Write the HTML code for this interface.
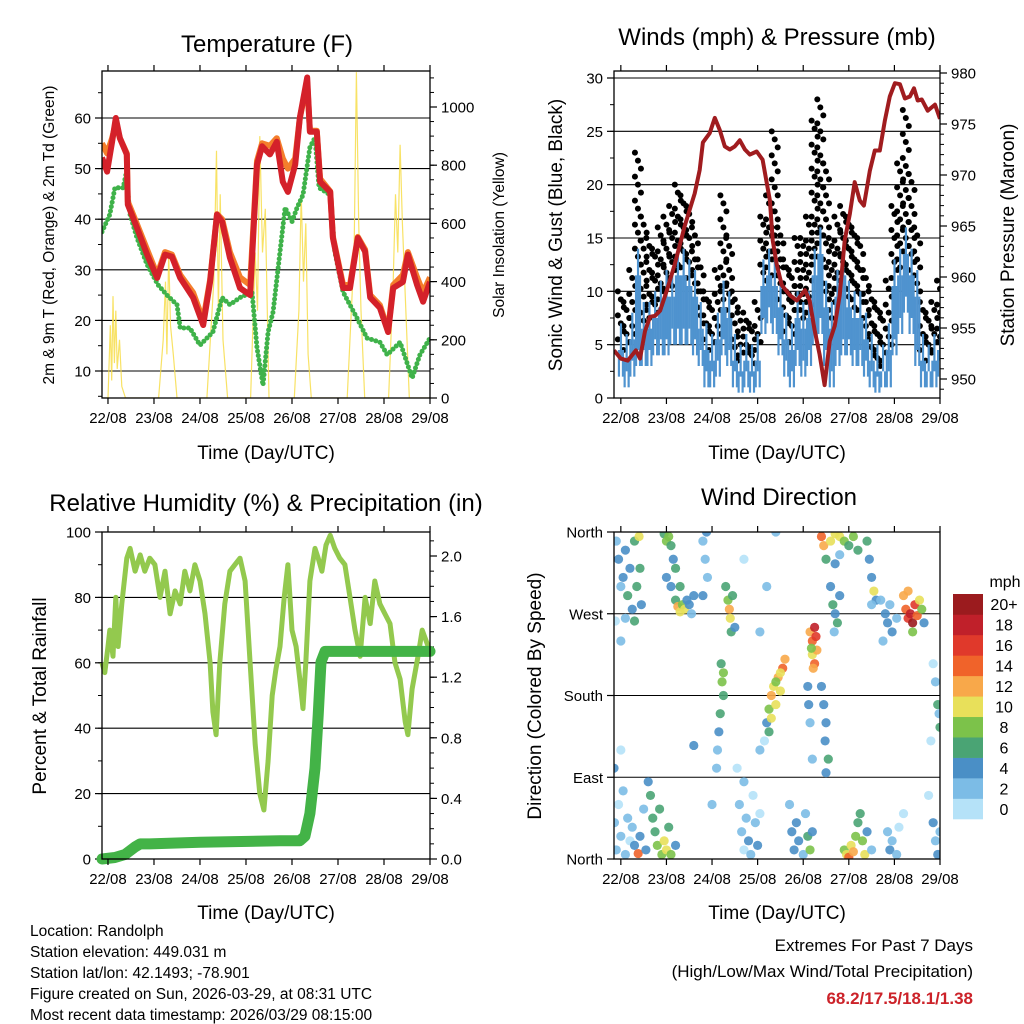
<!DOCTYPE html>
<html><head><meta charset="utf-8">
<style>
html,body{margin:0;padding:0;background:#fff;}
svg{display:block;font-family:"Liberation Sans",Arial,sans-serif;}
</style></head>
<body>
<svg id="chart" width="1024" height="1024" viewBox="0 0 1024 1024" xmlns="http://www.w3.org/2000/svg">
<rect width="1024" height="1024" fill="#fff"/>
<g id="g1"></g>
<g id="g2"></g>
<g id="g3"></g>
<g id="g4"></g>
<g id="texts">
<text x="267" y="52" font-size="24" text-anchor="middle">Temperature (F)</text>
<text x="777" y="45" font-size="24" text-anchor="middle">Winds (mph) &amp; Pressure (mb)</text>
<text x="266" y="511" font-size="24" text-anchor="middle">Relative Humidity (%) &amp; Precipitation (in)</text>
<text x="779" y="505" font-size="24" text-anchor="middle">Wind Direction</text>
<text x="266" y="459" font-size="19" text-anchor="middle">Time (Day/UTC)</text>
<text x="777" y="459" font-size="19" text-anchor="middle">Time (Day/UTC)</text>
<text x="266" y="919" font-size="19" text-anchor="middle">Time (Day/UTC)</text>
<text x="777" y="919" font-size="19" text-anchor="middle">Time (Day/UTC)</text>
<text transform="translate(54,235) rotate(-90)" font-size="15.5" text-anchor="middle">2m &amp; 9m T (Red, Orange) &amp; 2m Td (Green)</text>
<text transform="translate(504,235) rotate(-90)" font-size="15.5" text-anchor="middle">Solar Insolation (Yellow)</text>
<text transform="translate(562,235) rotate(-90)" font-size="19" text-anchor="middle">Sonic Wind &amp; Gust (Blue, Black)</text>
<text transform="translate(1014,235) rotate(-90)" font-size="19" text-anchor="middle">Station Pressure (Maroon)</text>
<text transform="translate(46,696) rotate(-90)" font-size="19" text-anchor="middle">Percent &amp; Total Rainfall</text>
<text transform="translate(541,696) rotate(-90)" font-size="19" text-anchor="middle">Direction (Colored By Speed)</text>
<g font-size="15.5">
<text x="30" y="936">Location: Randolph</text>
<text x="30" y="957">Station elevation: 449.031 m</text>
<text x="30" y="978">Station lat/lon: 42.1493; -78.901</text>
<text x="30" y="999">Figure created on Sun, 2026-03-29, at 08:31 UTC</text>
<text x="30" y="1020">Most recent data timestamp: 2026/03/29 08:15:00</text>
</g>
<text x="973" y="951" font-size="17" text-anchor="end">Extremes For Past 7 Days</text>
<text x="973" y="977" font-size="17" text-anchor="end">(High/Low/Max Wind/Total Precipitation)</text>
<text x="973" y="1004" font-size="17" font-weight="bold" fill="#cc2229" text-anchor="end">68.2/17.5/18.1/1.38</text>
</g>
</svg>
<script>
// ---------- data ----------
const dayLabels = ["22/08","23/08","24/08","25/08","26/08","27/08","28/08","29/08"];
// temperature panel
const tempT = [-0.13,-0.02,0.09,0.17,0.26,0.41,0.43,0.63,0.85,1.07,1.24,1.39,1.57,1.85,2.07,2.22,2.37,2.48,2.65,2.87,3.09,3.24,3.35,3.52,3.67,3.8,3.91,4.07,4.17,4.33,4.39,4.54,4.61,4.83,4.89,5.11,5.26,5.43,5.59,5.7,5.91,6.09,6.2,6.41,6.52,6.72,6.85,7.0];
const tempRed = [52.2,49.4,55.3,60,56,52.8,42.9,38.3,33,28.4,33,32.6,28.4,24.5,19.1,27.6,40.9,39.5,32.4,26.4,25,50.8,54.4,52.8,55.3,47.4,45.4,50.8,60,68,57.3,57.3,47.4,45.4,36.3,26.4,26.4,36.3,33.6,24.5,22.5,17.7,26.4,27.6,33,27,23.7,27.6];
const tempOrange = [55,53,56,59,56,53,43.5,39,34,29,33.5,33,29,25.5,20,28,41,40,33.5,28.5,27,51.5,55,54.5,56,52,50,52,60,67,57.5,57.5,48,45.5,36.5,27,27,36.5,34,25,23,18,27,29,33.5,28.5,25.5,28.5];
const tdT = [-0.13,0.04,0.15,0.33,0.39,0.48,0.63,0.85,1.09,1.28,1.5,1.57,1.78,2.0,2.28,2.48,2.65,2.87,3.13,3.24,3.37,3.48,3.59,3.85,4.0,4.11,4.24,4.39,4.5,4.59,4.83,4.93,5.11,5.41,5.63,5.91,6.07,6.35,6.61,6.78,7.0];
const tdVal = [37.5,40.9,46.2,46.2,48.8,40.9,36.3,31,27,25,23.1,18.5,18.5,15.1,17.7,24.5,23.1,24.5,25.6,14.6,7.2,17.7,21.7,42.3,39.5,42.3,44.8,54.2,56.1,46.2,44.8,33.6,25.6,20.5,16.5,15.7,13.2,15.7,8.6,13.2,16.5];
const solarT = [-0.13,0.0,0.05,0.08,0.11,0.14,0.17,0.2,0.25,0.3,0.38,1.1,1.2,1.25,1.28,1.32,1.36,1.42,1.5,2.15,2.3,2.36,2.4,2.44,2.5,2.6,3.1,3.2,3.25,3.3,3.36,3.42,3.5,4.05,4.15,4.2,4.25,4.3,4.35,4.42,5.2,5.35,5.4,5.45,5.5,5.58,6.1,6.2,6.25,6.3,6.35,6.4,6.45,6.55,7.0];
const solarV = [0,0,250,60,350,120,300,100,200,40,0,0,200,400,150,500,250,150,0,0,400,850,300,700,200,0,0,500,300,900,500,650,0,0,300,700,400,600,150,0,0,500,1120,600,300,0,0,400,700,500,870,600,400,0,0];
const tempTicks = [10,20,30,40,50,60];
const solarTicks = [0,200,400,600,800,1000];
// wind panel (3-hourly)
const windHi = [7,6,8,14,9,9,10,11, 12,12,14,14,13,12,9,7, 6,8,11,10,6,5,6,5, 6,13,14,13,11,8,7,10, 9,10,14,16,11,9,12,14, 11,10,10,8,6,5,5,7, 13,14,16,14,12,6,5,6, 7];
const windLo = [2,1,2,3,3,3,4,4, 4,5,5,5,5,4,3,1, 1,2,4,3,1,0.5,1,0.5, 1,6,7,6,4,2,1,3, 2,3,5,6,3,1,3,4, 4,3,3,2,1,0.5,1,1, 4,6,8,6,3,1,1,1, 2];
const gust = [10,9,12,23,17,15,14,16, 17,18,20,19,18,16,13,10, 9,12,19,15,10,8,8,7, 9,17,19,25,16,13,12,15, 15,17,26,28,22,15,17,18, 17,16,15,12,10,9,8,11, 18,22,27,21,16,9,8,9, 11];
const presT = [-0.15,0,0.15,0.33,0.42,0.53,0.64,0.75,0.86,1.01,1.18,1.29,1.4,1.51,1.62,1.73,1.8,1.95,2.06,2.17,2.28,2.39,2.5,2.61,2.72,2.83,2.98,3.11,3.27,3.33,3.42,3.53,3.71,3.86,4.04,4.14,4.25,4.36,4.47,4.58,4.69,4.8,4.91,5.02,5.13,5.24,5.33,5.46,5.57,5.68,5.79,5.9,6.01,6.12,6.23,6.34,6.43,6.51,6.6,6.73,6.89,7.0];
const presV = [952.8,952.0,951.8,952.8,952.0,954.7,956.1,956.2,956.7,958.7,961.2,963.1,965.0,966.6,968.2,970.5,973.2,974.1,975.6,974.4,972.8,972.5,972.8,973.4,972.5,972.0,972.3,971.5,967.5,963.6,961.2,959.2,958.2,957.7,958.7,957.7,954.8,952.4,949.4,953.7,955.2,958.2,963.6,966.1,969.3,967.5,967.0,970.4,972.4,972.4,975.3,977.7,979.0,978.9,977.5,977.7,978.5,977.3,977.4,976.3,976.9,975.5];
const windTicks = [0,5,10,15,20,25,30];
const presTicks = [950,955,960,965,970,975,980];
// RH panel
const rhT = [-0.13,-0.07,0,0.04,0.11,0.17,0.22,0.30,0.41,0.48,0.59,0.70,0.80,0.91,1.02,1.13,1.24,1.35,1.46,1.57,1.67,1.78,1.89,2.0,2.11,2.22,2.28,2.35,2.43,2.54,2.65,2.76,2.87,2.98,3.09,3.2,3.3,3.39,3.48,3.57,3.65,3.74,3.83,3.91,4.0,4.09,4.17,4.24,4.3,4.39,4.5,4.57,4.65,4.74,4.83,4.93,5.04,5.15,5.26,5.37,5.48,5.59,5.7,5.8,5.91,6.02,6.13,6.24,6.35,6.46,6.52,6.61,6.74,6.83,6.96,7.0];
const rhV = [60,57,65,70,62,80,65,78,92,95,88,93,88,92,90,80,88,75,82,78,88,82,90,85,75,60,45,38,60,78,88,90,92,85,60,35,20,15,30,50,58,65,80,90,70,65,55,46,60,85,95,92,88,96,99,95,92,90,80,70,62,80,72,85,78,75,72,60,55,42,38,52,62,70,65,62];
const rainT = [-0.13,0.15,0.37,0.59,0.7,0.91,2.0,3.74,4.17,4.28,4.39,4.5,4.57,4.63,4.72,7.0];
const rainV = [0,0.01,0.03,0.08,0.1,0.1,0.11,0.12,0.12,0.15,0.3,0.6,0.95,1.3,1.37,1.37];
const rhTicks = [0,20,40,60,80,100];
const rainTicks = ["0.0","0.4","0.8","1.2","1.6","2.0"];
// wind direction panel
const dirT = [-0.1,-0.05,0,0.05,0.1,0.15,0.2,0.25,0.3,0.35,0.4,0.42,0.45,0.3,-0.12,0.1,0,
 -0.14,-0.1,-0.05,0,0.05,0.1,0.15,0.2,0.25,0.3,0.38,0.42,0.5,0.55,0.65,0.7,0.75,0.8,0.85,0.9,0.95,1.0,1.05,1.1,1.2,0.6,-0.15,0,
 0.95,1.0,1.05,1.1,1.15,1.2,1.1,1.2,1.25,1.3,1.35,1.4,1.45,1.5,1.55,1.6,1.0,1.3,1.8,1.85,1.9,1.88,1.8,
 2.3,2.35,2.38,2.4,2.45,2.42,2.5,2.2,2.22,2.25,2.18,2.15,2.12,2.1,2.25,
 2.6,2.65,2.7,2.75,2.8,2.85,2.9,2.95,3.0,3.05,2.7,2.55,
 3.2,3.25,3.3,3.35,3.4,3.45,3.5,3.55,3.6,3.3,3.25,3.4,3.5,3.15,3.05,
 4.15,4.2,4.25,4.28,4.2,4.25,4.3,4.18,4.22,
 4.1,4.12,4.4,4.45,4.5,4.48,4.55,4.5,4.15,4.2,
 3.7,3.75,3.8,3.85,3.9,4.0,4.05,4.1,4.15,4.2,
 4.4,4.45,4.6,4.7,4.8,4.9,5.0,5.1,4.5,4.7,5.2,4.8,
 4.6,4.65,4.7,4.75,4.8,4.68,
 5.4,5.45,5.5,5.55,5.6,5.5,
 5.7,5.8,5.85,5.9,5.95,6.05,5.75,
 6.2,6.25,6.3,6.35,6.4,6.45,6.5,6.55,6.6,6.3,6.65,6.4,
 4.9,4.95,5.0,5.05,5.1,5.15,5.2,5.25,5.3,5.35,5.4,5.5,
 5.85,5.9,5.95,6.05,6.1,6.2,
 6.85,6.9,6.95,7.0,6.98,6.8,
 6.85,6.9,6.95,7.0,6.75,
 1.6,2.0,3.2,3.4,2.7,3.05];
const dirDeg = [350,330,300,310,340,290,320,275,350,300,355,320,280,262,262,265,240,
 40,10,60,25,75,5,45,20,35,15,6,25,55,10,70,45,30,15,55,5,20,10,35,5,15,85,100,120,
 358,350,355,345,330,320,300,285,278,272,280,275,285,280,270,290,310,300,350,330,310,360,290,
 300,285,275,265,290,250,255,215,195,180,160,140,120,100,205,
 60,30,10,45,20,5,70,40,15,50,85,100,
 150,165,180,190,170,200,185,210,220,155,140,195,205,130,120,
 250,240,255,245,225,215,230,232,210,
 190,170,190,170,150,130,110,95,150,110,
 60,30,10,40,20,5,50,25,10,30,
 355,345,350,358,355,350,345,355,330,325,340,335,
 300,280,270,260,290,250,
 350,330,310,295,285,280,
 285,270,260,280,250,265,240,
 290,275,265,270,260,280,268,285,275,295,260,250,
 10,5,2,15,8,25,40,50,20,5,30,10,
 30,10,20,5,35,50,
 215,195,170,145,160,130,
 40,20,5,30,70,
 125,60,300,360,330,250];
const dirSpd = [3,4,3,5,4,6,4,5,7,6,11,7,4,6,1,3,2,
 3,2,1,2,3,3,2,1,3,4,15,5,3,4,7,6,7,8,6,9,11,10,6,8,4,5,4,1,
 7,8,8,7,5,6,5,7,12,11,8,10,5,4,3,4,4,7,3,2,3,4,4,
 7,8,12,11,6,7,4,7,8,7,6,4,3,2,9,
 2,3,1,2,4,3,1,2,5,1,2,1,
 4,9,12,10,11,13,10,14,12,10,6,9,10,1,2,
 12,14,18,16,10,15,13,8,12,
 4,4,5,4,4,5,6,4,3,2,
 3,4,4,5,4,3,2,7,8,4,
 15,12,10,11,10,8,7,8,6,4,6,3,
 5,6,4,7,5,3,
 6,5,4,10,4,3,
 3,4,4,3,5,2,2,
 12,14,16,18,20,16,15,10,9,12,4,8,
 9,11,15,10,12,8,7,7,9,11,4,3,
 3,4,3,2,1,1,
 1,2,7,6,3,1,
 4,3,4,2,1,
 4,2,2,2,1,2];
const dirTickLabels = ["North","East","South","West","North"];
const speedColors = ["#b5e2f8","#7cbce6","#4a8fc6","#4aa474","#7cc24a","#e8e05a","#f8a84a","#f0632a","#e0392b","#c0202a","#9b1b1e"];
const speedLabels = ["0","2","4","6","8","10","12","14","16","18","20+"];

// ---------- helpers ----------
const NS = "http://www.w3.org/2000/svg";
function mk(parent, tag, attrs){
  const e = document.createElementNS(NS, tag);
  for (const k in attrs) e.setAttribute(k, attrs[k]);
  parent.appendChild(e);
  return e;
}
function lin(d0,d1,r0,r1){ return v => r0 + (v-d0)/(d1-d0)*(r1-r0); }
function pathFrom(xs, ys, fx, fy){
  let d = "";
  for (let i=0;i<xs.length;i++) d += (i?"L":"M") + fx(xs[i]).toFixed(1) + "," + fy(ys[i]).toFixed(1);
  return d;
}
function frame(g, L, T, R, B, name){
  const r = mk(g,"rect",{x:L,y:T,width:R-L,height:B-T,fill:"none",stroke:"#000","stroke-width":1.3});
  
  
}
function xAxis(g, L, T, R, B, fx){
  for (let i=0;i<dayLabels.length;i++){
    const x = fx(i);
    mk(g,"line",{x1:x,y1:B,x2:x,y2:B+6,stroke:"#000","stroke-width":1.2});
    mk(g,"line",{x1:x,y1:T,x2:x,y2:T-6,stroke:"#000","stroke-width":1.2});
    const t = mk(g,"text",{x:x,y:B+25,"font-size":15,"text-anchor":"middle"});
    t.textContent = dayLabels[i];
    
    
  }
}
function yTicks(g, side, x, ticks, labels, fy, minorStep, minorRange, grid, L, R){
  for (let i=0;i<ticks.length;i++){
    const y = fy(ticks[i]);
    if (grid) mk(g,"line",{x1:L,y1:y,x2:R,y2:y,stroke:"#000","stroke-width":1.1});
    mk(g,"line",{x1:x,y1:y,x2:x+(side<0?-7:7),y2:y,stroke:"#000","stroke-width":1.2});
    const t = mk(g,"text",{x:x+(side<0?-11:11),y:y+5.5,"font-size":15,"text-anchor":side<0?"end":"start"});
    t.textContent = labels[i];
    
    
  }
  if (minorStep){
    for (let v=minorRange[0]; v<=minorRange[1]+1e-9; v+=minorStep){
      const y = fy(v);
      mk(g,"line",{x1:x,y1:y,x2:x+(side<0?-4:4),y2:y,stroke:"#000","stroke-width":1});
    }
  }
}

// ---------- Panel 1: temperature ----------
(function(){
  const g = document.getElementById("g1");
  const L=102,T=71,R=430,B=398;
  const fx = lin(-0.13,7.0,L,R);
  const fy = lin(10,60,371,118);
  const fs = lin(0,1000,398,107);
  const clip = mk(g,"clipPath",{id:"c1"}); mk(clip,"rect",{x:L,y:T,width:R-L,height:B-T});
  yTicks(g,-1,L,tempTicks,tempTicks.map(String),fy,5,[5,65],true,L,R);
  yTicks(g,1,R,solarTicks,solarTicks.map(String),fs,50,[0,1100],false,L,R);
  const pg = mk(g,"g",{"clip-path":"url(#c1)"});
  const sol = mk(pg,"path",{d:pathFrom(solarT,solarV,fx,fs),fill:"none",stroke:"#f7dd4a","stroke-width":1.2,"stroke-opacity":0.85});
  
  
  const td = mk(pg,"path",{d:pathFrom(tdT,tdVal,fx,fy),fill:"none",stroke:"#3fb24a","stroke-width":5,"stroke-linecap":"round","stroke-linejoin":"round","stroke-dasharray":"0 4.5"});
  
  
  const or = mk(pg,"path",{d:pathFrom(tempT,tempOrange,fx,fy),fill:"none",stroke:"#f47e2c","stroke-width":6,"stroke-linejoin":"round"});
  
  
  const rd = mk(pg,"path",{d:pathFrom(tempT,tempRed,fx,fy),fill:"none",stroke:"#d4212a","stroke-width":6,"stroke-linejoin":"round"});
  
  
  frame(g,L,T,R,B,'temperature-plot-frame');
  xAxis(g,L,T,R,B,fx);
})();

// ---------- Panel 2: winds & pressure ----------
(function(){
  const g = document.getElementById("g2");
  const L=614,T=71,R=940,B=398;
  const fx = lin(-0.15,7.0,L,R);
  const fy = lin(0,30,398,78);
  const fp = lin(950,980,379,73);
  const clip = mk(g,"clipPath",{id:"c2"}); mk(clip,"rect",{x:L,y:T,width:R-L,height:B-T});
  yTicks(g,-1,L,windTicks,windTicks.map(String),fy,2.5,[0,30],true,L,R);
  yTicks(g,1,R,presTicks,presTicks.map(String),fp,1,[949,980],false,L,R);
  const pg = mk(g,"g",{"clip-path":"url(#c2)"});
  for (let i=0;i<gust.length;i++){
    const t = i*0.125;
    let k=0;
    for (let v=gust[i]; v>=windHi[i]-2; v-=0.75){
      const c = mk(pg,"circle",{cx:fx(t)+((k%3)-1)*3,cy:fy(v),r:3,fill:"#000"});
      
      
      k++;
    }
  }
  for (let i=0;i<windHi.length;i++){
    const t = i*0.125;
    for (let j=0;j<3;j++){
      const hi = windHi[i] - (j===1?0:2.5);
      const lo = windLo[i] + (j===1?1.5:0);
      const b = mk(pg,"rect",{x:fx(t)-3+j*2,y:fy(hi),width:2.2,height:Math.max(1,fy(lo)-fy(hi)),fill:"#4f93cf"});
      
      
    }
  }
  const pl = mk(pg,"path",{d:pathFrom(presT,presV,fx,fp),fill:"none",stroke:"#a01c1f","stroke-width":4,"stroke-linejoin":"round"});
  
  
  frame(g,L,T,R,B,'wind-plot-frame');
  xAxis(g,L,T,R,B,fx);
})();

// ---------- Panel 3: RH & precip ----------
(function(){
  const g = document.getElementById("g3");
  const L=102,T=532,R=430,B=859;
  const fx = lin(-0.13,7.0,L,R);
  const fy = lin(0,100,859,532);
  const fr = lin(0,2.0,859,556);
  const clip = mk(g,"clipPath",{id:"c3"}); mk(clip,"rect",{x:L-6,y:T,width:R-L+12,height:B-T+6});
  yTicks(g,-1,L,rhTicks,rhTicks.map(String),fy,10,[0,100],true,L,R);
  yTicks(g,1,R,rainTicks.map(Number),rainTicks,fr,0.1,[0,2.1],false,L,R);
  const pg = mk(g,"g",{"clip-path":"url(#c3)"});
  const rh = mk(pg,"path",{d:pathFrom(rhT,rhV,fx,fy),fill:"none",stroke:"#93c94e","stroke-width":5,"stroke-linejoin":"round"});
  
  
  const rn = mk(pg,"path",{d:pathFrom(rainT,rainV,fx,fr),fill:"none",stroke:"#43b347","stroke-width":11,"stroke-linecap":"round","stroke-linejoin":"round"});
  
  
  frame(g,L,T,R,B,'humidity-plot-frame');
  xAxis(g,L,T,R,B,fx);
})();

// ---------- Panel 4: wind direction ----------
(function(){
  const g = document.getElementById("g4");
  const L=614,T=532,R=940,B=859;
  const fx = lin(-0.15,7.0,L,R);
  const fy = lin(0,360,859,532);
  const clip = mk(g,"clipPath",{id:"c4"}); mk(clip,"rect",{x:L,y:T,width:R-L,height:B-T});
  yTicks(g,-1,L,[0,90,180,270,360],dirTickLabels,fy,0,null,true,L,R);
  const pg = mk(g,"g",{"clip-path":"url(#c4)"});
  for (let i=0;i<dirT.length;i++){
    const ci = Math.min(10, Math.floor(dirSpd[i]/2));
    const c = mk(pg,"circle",{cx:fx(dirT[i]),cy:fy(dirDeg[i]),r:4.6,fill:speedColors[ci],"fill-opacity":0.9});
    
    
  }
  frame(g,L,T,R,B,'direction-plot-frame');
  xAxis(g,L,T,R,B,fx);
  const cb = mk(g,"g",{});
  
  
  const bh = 225/speedColors.length;
  for (let i=0;i<speedColors.length;i++){
    const y = 819 - (i+1)*bh;
    const r = mk(cb,"rect",{x:953,y:y,width:30,height:bh+0.3,fill:speedColors[i]});
    
    
    const t = mk(cb,"text",{x:1004,y:y+bh/2+6,"font-size":16,"text-anchor":"middle"});
    t.textContent = speedLabels[i];
    
    
  }
  const u = mk(cb,"text",{x:1005,y:587,"font-size":16,"text-anchor":"middle"});
  u.textContent = "mph";
  
  
})();
</script>
</body></html>
